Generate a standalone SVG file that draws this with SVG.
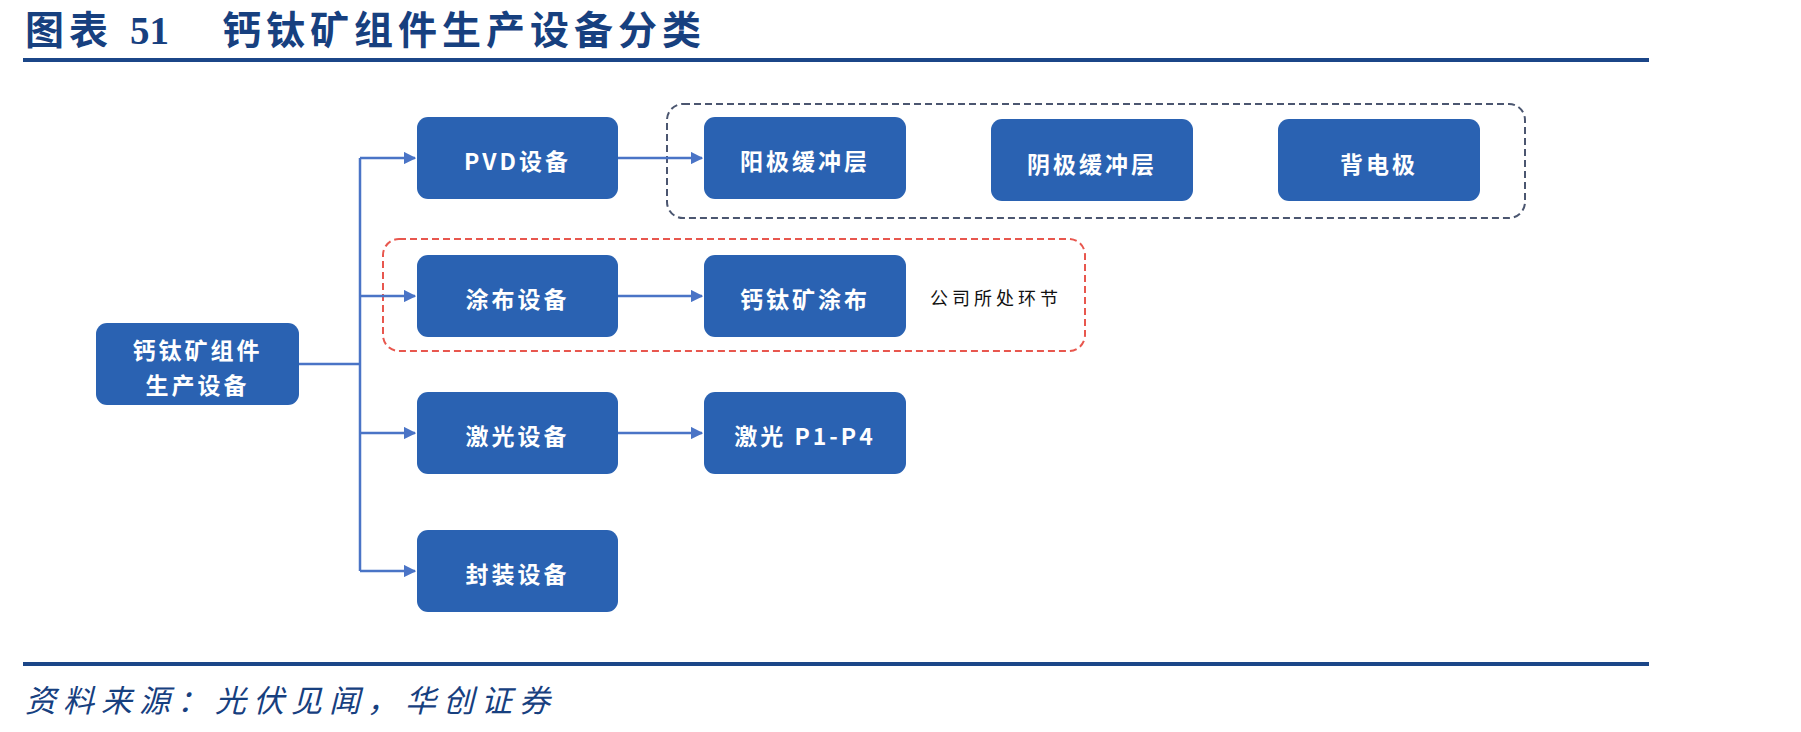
<svg xmlns="http://www.w3.org/2000/svg" width="1801" height="732" viewBox="0 0 1801 732">
<defs>
<style>
.box{fill:#2A62B2;}
.bt{fill:#fff;font-family:"Noto Sans CJK SC",sans-serif;font-size:23px;font-weight:bold;letter-spacing:3px;text-anchor:middle;dominant-baseline:central;}
.conn{fill:none;stroke:#4A74C6;stroke-width:2.5;}
.title{fill:#17407F;font-family:"Liberation Serif","Noto Sans CJK SC",serif;font-size:39px;font-weight:bold;}
</style>
<marker id="arr" viewBox="0 0 10 10" refX="9" refY="5" markerWidth="5" markerHeight="5" orient="auto" markerUnits="strokeWidth">
<path d="M0,0 L10,5 L0,10 z" fill="#4A74C6"/>
</marker>
</defs>
<rect width="1801" height="732" fill="#fff"/>
<text class="title" x="25" y="44" letter-spacing="5">图表</text>
<text class="title" x="130" y="44" font-size="42">51</text>
<text class="title" x="222" y="44" letter-spacing="5">钙钛矿组件生产设备分类</text>
<rect x="23" y="58" width="1626" height="4" fill="#1B4688"/>
<rect x="23" y="662" width="1626" height="4" fill="#1B4688"/>
<text x="25" y="712" fill="#17407F" font-family="Noto Sans CJK SC,sans-serif" font-size="31" font-style="italic" letter-spacing="7">资料来源：光伏见闻，华创证券</text>

<rect x="667" y="104" width="858" height="114" rx="16" fill="none" stroke="#4B5670" stroke-width="2" stroke-dasharray="7 4"/>
<rect x="383" y="239" width="702" height="112" rx="16" fill="none" stroke="#E8574E" stroke-width="2" stroke-dasharray="7 4"/>

<g id="connectors">
<path class="conn" d="M299,364 H360"/>
<path class="conn" d="M360,158 V571"/>
<path class="conn" d="M360,158 H415" marker-end="url(#arr)"/>
<path class="conn" d="M360,296 H415" marker-end="url(#arr)"/>
<path class="conn" d="M360,433 H415" marker-end="url(#arr)"/>
<path class="conn" d="M360,571 H415" marker-end="url(#arr)"/>
<path class="conn" d="M618,158 H702" marker-end="url(#arr)"/>
<path class="conn" d="M618,296 H702" marker-end="url(#arr)"/>
<path class="conn" d="M618,433 H702" marker-end="url(#arr)"/>
</g>

<g id="root"><rect class="box" x="96" y="323" width="203" height="82" rx="11"/>
<text class="bt" x="197.5" y="349">钙钛矿组件</text><text class="bt" x="197.5" y="384">生产设备</text></g>
<g id="pvd"><rect class="box" x="417" y="117" width="201" height="82" rx="11"/><text class="bt" x="517.5" y="160">PVD设备</text></g>
<g id="coat"><rect class="box" x="417" y="255" width="201" height="82" rx="11"/><text class="bt" x="517.5" y="298">涂布设备</text></g>
<g id="laser"><rect class="box" x="417" y="392" width="201" height="82" rx="11"/><text class="bt" x="517.5" y="435">激光设备</text></g>
<g id="pack"><rect class="box" x="417" y="530" width="201" height="82" rx="11"/><text class="bt" x="517.5" y="573">封装设备</text></g>
<g id="anode"><rect class="box" x="704" y="117" width="202" height="82" rx="11"/><text class="bt" x="805" y="160">阳极缓冲层</text></g>
<g id="cathode"><rect class="box" x="991" y="119" width="202" height="82" rx="11"/><text class="bt" x="1092" y="163">阴极缓冲层</text></g>
<g id="backelec"><rect class="box" x="1278" y="119" width="202" height="82" rx="11"/><text class="bt" x="1379" y="163">背电极</text></g>
<g id="pcoat"><rect class="box" x="704" y="255" width="202" height="82" rx="11"/><text class="bt" x="805" y="298">钙钛矿涂布</text></g>
<g id="p1p4"><rect class="box" x="704" y="392" width="202" height="82" rx="11"/><text class="bt" x="805" y="435">激光 P1-P4</text></g>
<g id="note"><text x="996" y="297" fill="#111" font-family="Noto Sans CJK SC,sans-serif" font-size="18" letter-spacing="4" text-anchor="middle" dominant-baseline="central">公司所处环节</text></g>
</svg>
